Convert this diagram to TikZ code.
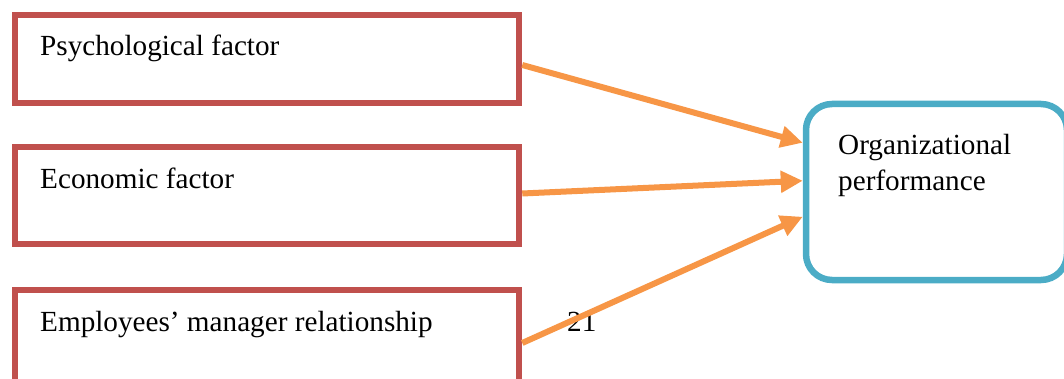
\documentclass[tikz,border=0pt]{standalone}
\usepackage{fontspec}
\setmainfont{Liberation Serif}
\usetikzlibrary{arrows.meta,calc}
\definecolor{boxred}{HTML}{C0504D}
\definecolor{boxblue}{HTML}{4BACC6}
\definecolor{arrorange}{HTML}{F79646}
\tikzset{
  factor/.style={draw=boxred,line width=6.5pt,rectangle,minimum width=504pt,inner sep=0pt},
  outcome/.style={draw=boxblue,line width=6.5pt,rectangle,rounded corners=26pt,minimum width=261pt,minimum height=176pt,inner sep=0pt},
  label/.style={inner sep=0pt,anchor=base west,font=\fontsize{29.2}{36}\selectfont},
  link/.style={draw=arrorange,line width=6pt,-{Triangle[length=22pt,width=21pt]}}
}
\begin{document}
\begin{tikzpicture}[x=1pt,y=-1pt]
\useasboundingbox (0,0) rectangle (1064,379);
\clip (0,0) rectangle (1064,379);
\node[factor,minimum height=88pt] (b1) at (267,59) {};
\node[factor,minimum height=97pt] (b2) at (267,195.5) {};
\node[factor,minimum height=110pt] (b3) at (267,345) {};
\node[outcome] (o) at (936.5,192) {};
\node[label] (t1) at (40,56) {Psychological factor};
\node[label] (t2) at (40,189) {Economic factor};
\node[label] (t3) at (40,331) {Employees’ manager relationship};
\node[label] (n21) at (567,331) {21};
\node[label] (t4) at (838,155) {Organizational};
\node[label] (t5) at (838,191) {performance};
\draw[link] ($(b1.east)+(0,6)$) -- ($(o.north west)+(0,42)$);
\draw[link] ($(b2.east)+(0,-2)$) -- ($(o.north west)+(0,80)$);
\draw[link] ($(b3.east)+(0,-2)$) -- ($(o.north west)+(0,116)$);
\end{tikzpicture}
\end{document}
